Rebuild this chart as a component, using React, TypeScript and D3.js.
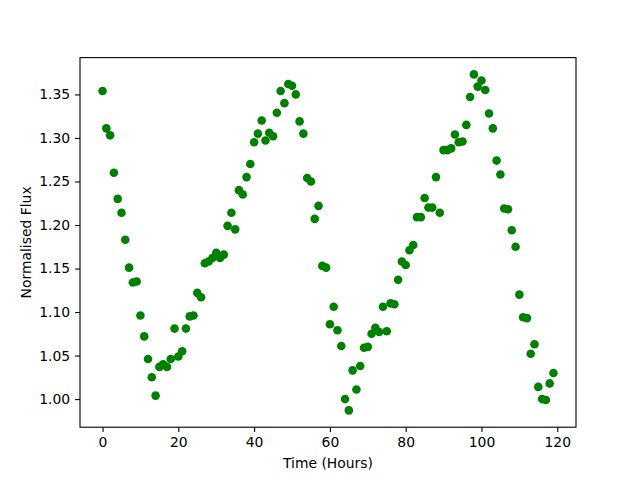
import React, { useRef, useEffect } from 'react';
import * as d3 from 'd3';

// hours 0..119, one reading per hour
const hours: number[] = Array.from({ length: 120 }, (_, i) => i);

const flux: number[] = [
  1.354, 1.311, 1.303, 1.260, 1.230, 1.214, 1.183, 1.151, 1.134, 1.135,
  1.096, 1.072, 1.046, 1.025, 1.004, 1.037, 1.040, 1.037, 1.046, 1.081,
  1.049, 1.055, 1.081, 1.095, 1.096, 1.122, 1.117, 1.156, 1.158, 1.162,
  1.168, 1.162, 1.166, 1.199, 1.214, 1.195, 1.240, 1.235, 1.255, 1.270,
  1.295, 1.305, 1.320, 1.297, 1.306, 1.302, 1.329, 1.354, 1.340, 1.362,
  1.360, 1.350, 1.319, 1.305, 1.254, 1.250, 1.207, 1.222, 1.153, 1.151,
  1.086, 1.106, 1.079, 1.061, 1.000, 0.987, 1.033, 1.011, 1.038, 1.059,
  1.060, 1.075, 1.082, 1.077, 1.106, 1.078, 1.110, 1.109, 1.137, 1.158,
  1.154, 1.171, 1.177, 1.209, 1.209, 1.231, 1.220, 1.220, 1.255, 1.214,
  1.286, 1.286, 1.288, 1.304, 1.295, 1.296, 1.315, 1.347, 1.373, 1.359,
  1.366, 1.355, 1.328, 1.311, 1.274, 1.258, 1.219, 1.218, 1.194, 1.175,
  1.120, 1.094, 1.093, 1.052, 1.063, 1.014, 1.000, 0.999, 1.018, 1.030,
];

const xTicks = [0, 20, 40, 60, 80, 100, 120];
const yTicks = [1.0, 1.05, 1.1, 1.15, 1.2, 1.25, 1.3, 1.35];

const Chart = () => {
  const ref = useRef<SVGSVGElement>(null);

  useEffect(() => {
    const svg = d3.select(ref.current)
      .attr('width', 640)
      .attr('height', 480);

    svg.selectAll('*').remove();

    const margin = { top: 57.6, right: 64, bottom: 52.8, left: 80 };
    const width = 640 - margin.left - margin.right;
    const height = 480 - margin.top - margin.bottom;

    const g = svg.append('g')
      .attr('transform', `translate(${margin.left},${margin.top})`);

    // matplotlib style 5% padding around data
    const [x0, x1] = d3.extent(hours) as [number, number];
    const [y0, y1] = d3.extent(flux) as [number, number];
    const px = (x1 - x0) * 0.05;
    const py = (y1 - y0) * 0.05;

    const x = d3.scaleLinear().domain([x0 - px, x1 + px]).range([0, width]);
    const y = d3.scaleLinear().domain([y0 - py, y1 + py]).range([height, 0]);

    const font = 'DejaVu Sans, sans-serif';

    const xAxis = g.append('g')
      .attr('transform', `translate(0,${height})`)
      .call(d3.axisBottom(x).tickValues(xTicks).tickSize(4.9).tickPadding(4.9).tickFormat(d3.format('d')));

    const yAxis = g.append('g')
      .call(d3.axisLeft(y).tickValues(yTicks).tickSize(4.9).tickPadding(4.9).tickFormat(d3.format('.2f')));

    [xAxis, yAxis].forEach(ax => {
      ax.select('.domain').remove();
      ax.selectAll('line').attr('stroke', '#000').attr('stroke-width', 1.1);
      ax.selectAll('text')
        .attr('fill', '#000')
        .style('font-family', font)
        .style('font-size', '13.9px');
    });

    // points
    g.selectAll('.pt')
      .data(hours)
      .enter().append('circle')
      .attr('class', 'pt')
      .attr('cx', (d) => x(d))
      .attr('cy', (_, i) => y(flux[i]))
      .attr('r', 4.3)
      .attr('fill', '#008000');

    // frame
    g.append('rect')
      .attr('width', width)
      .attr('height', height)
      .attr('fill', 'none')
      .attr('stroke', '#000')
      .attr('stroke-width', 1.1);

    svg.append('text')
      .attr('x', margin.left + width / 2)
      .attr('y', 468)
      .attr('text-anchor', 'middle')
      .style('font-family', font)
      .style('font-size', '13.9px')
      .text('Time (Hours)');

    svg.append('text')
      .attr('transform', `translate(31,${margin.top + height / 2}) rotate(-90)`)
      .attr('text-anchor', 'middle')
      .style('font-family', font)
      .style('font-size', '13.9px')
      .text('Normalised Flux');
  }, []);

  return <svg ref={ref} style={{ display: 'block' }}></svg>;
};

export default function App() {
  return (
    <div style={{ position: 'absolute', left: 0, top: 0 }}>
      <Chart />
    </div>
  );
}
